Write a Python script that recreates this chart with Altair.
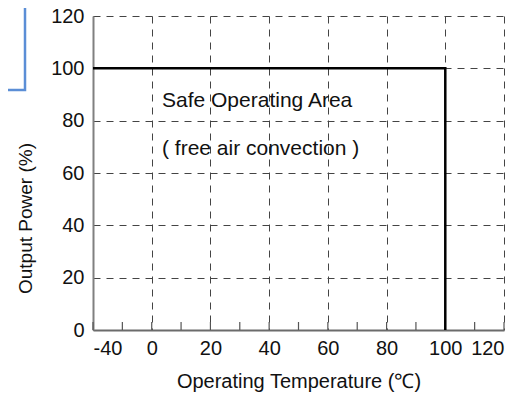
import altair as alt
import pandas as pd

# ---- data ----
x_labels = [-40, 0, 20, 40, 60, 80, 100, 120]
x_tick_marks = [-40, -20, 0, 10, 20, 30, 40, 50, 60, 70, 80, 90, 100, 110, 120]
y_labels = [0, 20, 40, 60, 80, 100, 120]
curve_temp = [-40, 100, 100]
curve_power = [100, 100, 0]
curve_order = [0, 1, 2]
note_text = ["Safe Operating Area", "( free air convection )"]
note_temp = [3.5, 3.5]
note_power = [87.5, 69.0]

W, H = 411, 314
FONT = "Liberation Sans, Arial"

curve_df = pd.DataFrame({"t": curve_temp, "p": curve_power, "o": curve_order})
ticks_df = pd.DataFrame({"t": x_tick_marks})
notes_df = pd.DataFrame({"t": note_temp, "p": note_power, "txt": note_text})

xscale = alt.Scale(domain=[-40, 0, 120], range=[0, W / 7, W])
yscale = alt.Scale(domain=[0, 120])

xaxis = alt.Axis(
    values=x_labels, grid=True, gridDash=[7, 6], gridColor="#444444", gridWidth=1,
    ticks=False, domainColor="#6b6b6b", domainWidth=2,
    labelExpr="datum.value < 0 ? '-' + abs(datum.value) : '' + datum.value",
    labelFont=FONT, labelFontSize=20, labelColor="#111111", labelPadding=8,
    title="Operating Temperature (℃)", titleFont=FONT, titleFontSize=20,
    titleFontWeight="normal", titleColor="#111111", titleBaseline="middle",
    titleY=51,
)
yaxis = alt.Axis(
    values=y_labels, grid=True, gridDash=[7, 6], gridColor="#444444", gridWidth=1,
    ticks=False, domainColor="#808080", domainWidth=2,
    labelFont=FONT, labelFontSize=20, labelColor="#111111", labelPadding=9,
    title="Output Power (%)", titleFont=FONT, titleFontSize=19,
    titleFontWeight="normal", titleColor="#111111", titleAngle=270,
    titleAlign="center", titleBaseline="middle", titleX=-68, titleY=202,
)

line = alt.Chart(curve_df).mark_line(color="#000000", strokeWidth=2.5).encode(
    x=alt.X("t:Q", scale=xscale, axis=xaxis),
    y=alt.Y("p:Q", scale=yscale, axis=yaxis),
    order="o:Q",
)

ticks = alt.Chart(ticks_df).mark_rule(color="#555555", strokeWidth=1.2).encode(
    x=alt.X("t:Q", scale=xscale),
    y=alt.value(H),
    y2=alt.value(H - 8),
)

notes = alt.Chart(notes_df).mark_text(
    align="left", baseline="middle", font=FONT, fontSize=21, color="#111111"
).encode(
    x=alt.X("t:Q", scale=xscale),
    y=alt.Y("p:Q", scale=yscale),
    text="txt:N",
)

box = alt.Chart(pd.DataFrame({"k": [0]})).mark_rect(
    fillOpacity=0, stroke="#5b8ed6", strokeWidth=2.5, clip=False
).encode(
    x=alt.value(-130), x2=alt.value(-68), y=alt.value(-40), y2=alt.value(74)
)

chart = alt.layer(ticks, line, notes, box).properties(
    width=W, height=H,
    autosize=alt.AutoSizeParams(type="none"),
    padding={"left": 85, "top": 8, "right": 18, "bottom": 63},
    background="#ffffff",
).configure_view(stroke=None)

chart.save("out.html", embed_options={"renderer": "svg", "actions": False})
